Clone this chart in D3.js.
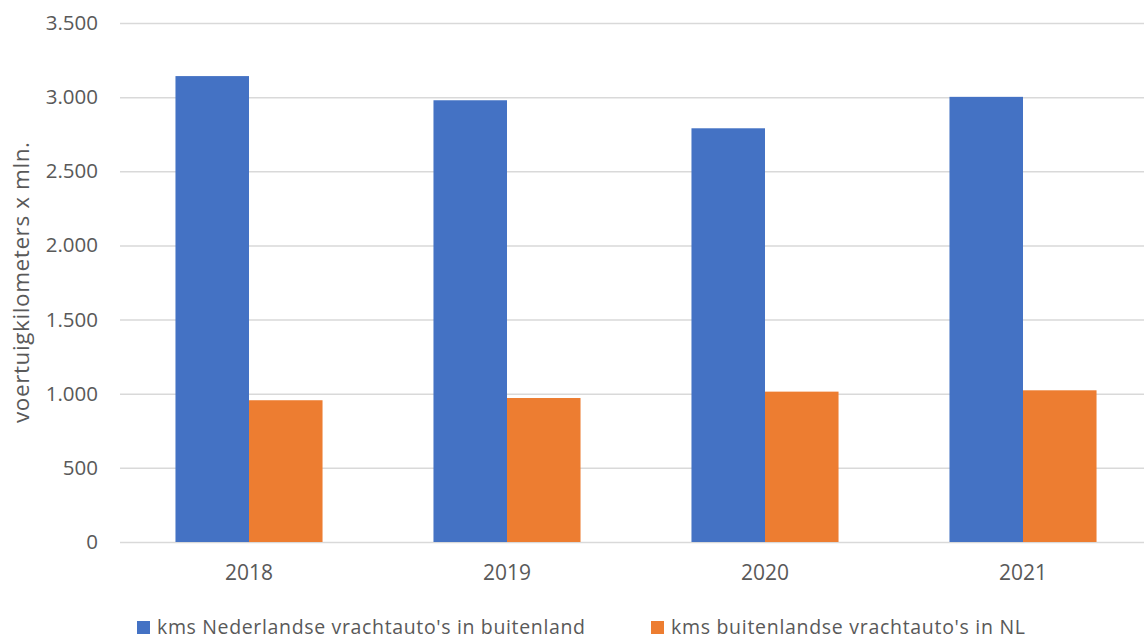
<!DOCTYPE html>
<html><head><meta charset="utf-8">
<script src="https://cdn.jsdelivr.net/npm/d3@7"></script>
<style>body{margin:0;background:#fff}svg{display:block}</style>
</head><body><svg id="c" width="1144" height="639"></svg>
<script>
const years = ["2018","2019","2020","2021"];
const seriesNames = ["kms Nederlandse vrachtauto's in buitenland","kms buitenlandse vrachtauto's in NL"];
const dutchAbroad = [3142, 2979, 2790, 3002];
const foreignInNL = [956, 971, 1014, 1023];
const yTicks = [0,500,1000,1500,2000,2500,3000,3500];
const yLabel = "voertuigkilometers x mln.";
const colors = ["#4472C4","#ED7D31"];

const svg = d3.select("#c");
const font = "'Open Sans', sans-serif";
const textCol = "#595959";
const m = {left:120, right:1152, top:23, bottom:542};
const x = d3.scaleBand().domain(years).range([m.left,m.right]).paddingInner(0.43).paddingOuter(0.215);
const xs = d3.scaleBand().domain([0,1]).range([0,x.bandwidth()]);
const y = d3.scaleLinear().domain([0,3500]).range([m.bottom,m.top]);
const fmt = v => d3.format(",")(v).replace(/,/g,".");

// grid
const yAxis = d3.axisLeft(y).tickValues(yTicks).tickSize(-(m.right-m.left)).tickFormat(fmt).tickPadding(22);
const gy = svg.append("g").attr("transform",`translate(${m.left},0)`).call(yAxis);
gy.select(".domain").remove();
gy.selectAll(".tick line").attr("stroke","#d9d9d9").attr("stroke-width",1.5);
gy.selectAll(".tick text").attr("fill",textCol).style("font-family",font).style("font-size","20.5px");

const data = [dutchAbroad, foreignInNL];
data.forEach((vals,si)=>{
  svg.append("g").selectAll("rect").data(vals).join("rect")
    .attr("x",(d,i)=>x(years[i])+xs(si))
    .attr("width",xs.bandwidth())
    .attr("y",d=>y(d))
    .attr("height",d=>y(0)-y(d))
    .attr("fill",colors[si]);
});

// x axis
const gx = svg.append("g").attr("transform",`translate(0,${m.bottom})`).call(d3.axisBottom(x).tickSize(0).tickPadding(23));
gx.select(".domain").remove();
gx.selectAll(".tick text").attr("fill",textCol).style("font-family",font).style("font-size","21px");

// y label
svg.append("text").attr("transform",`translate(29,${(m.top+m.bottom)/2}) rotate(-90)`)
  .attr("text-anchor","middle").attr("fill",textCol).style("font-family",font).style("font-size","22.5px")
  .attr("textLength",281).attr("lengthAdjust","spacing").text(yLabel);

// legend
const legX = [137, 651];
const legLen = [428, 354];
seriesNames.forEach((n,i)=>{
  svg.append("rect").attr("x",legX[i]).attr("y",621).attr("width",13).attr("height",13).attr("fill",colors[i]);
  svg.append("text").attr("x",legX[i]+20).attr("y",633.5).attr("fill",textCol)
    .style("font-family",font).style("font-size","19.5px")
    .attr("textLength",legLen[i]).attr("lengthAdjust","spacing").text(n);
});
</script></body></html>
